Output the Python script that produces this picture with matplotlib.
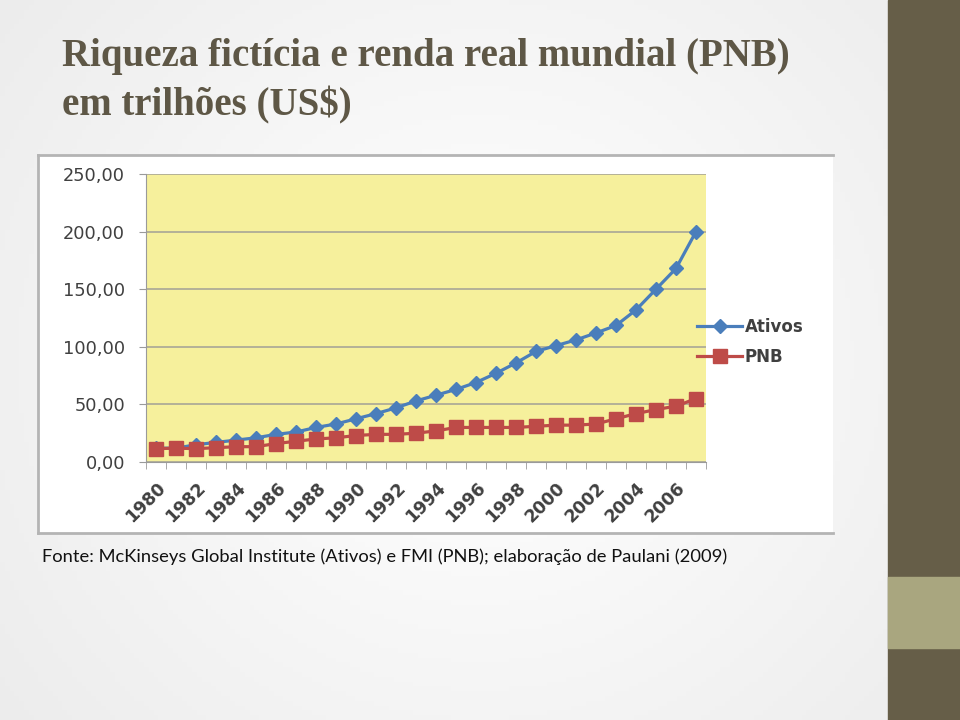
import numpy as np
import matplotlib
matplotlib.use("Agg")
import matplotlib.pyplot as plt
from matplotlib.patches import Rectangle
from matplotlib.lines import Line2D

years = list(range(1980, 2008))
ativos = [12, 12, 15, 17, 19, 21, 24, 26, 30, 33, 37.5, 42, 47, 53, 58, 63,
          69, 77, 86, 96, 101, 106, 112, 118.5, 132, 150, 168, 200]
pnb = [11.6, 12, 11.6, 12.4, 13.3, 13.3, 16, 18, 20, 21, 23, 24, 24, 25, 27, 30,
       30, 30, 30, 31, 32, 32, 33, 37.5, 42, 45.5, 48.5, 55]
y_ticks = [0, 50, 100, 150, 200, 250]
y_labels = ["0,00", "50,00", "100,00", "150,00", "200,00", "250,00"]

title_1 = "Riqueza fictícia e renda real mundial (PNB)"
title_2 = "em trilhões (US$)"
fonte = "Fonte: McKinseys Global Institute (Ativos) e FMI (PNB); elaboração de Paulani (2009)"

W, H = 960, 720
fig = plt.figure(figsize=(9.6, 7.2), dpi=100)

# slide background: soft grey gradient, white in the middle
bg = fig.add_axes([0, 0, 1, 1], zorder=-10)
bg.axis("off")
gx = np.linspace(-1, 1, 200)
gy = np.linspace(-1, 1, 150)
xx, yy = np.meshgrid(gx, gy)
shade = 0.985 - 0.07 * np.clip(np.sqrt((xx * 0.9) ** 2 + (yy * 0.7) ** 2) - 0.3, 0, None)
bg.imshow(np.dstack([shade, shade, shade]), extent=[0, 1, 0, 1], aspect="auto")
bg.set_xlim(0, 1)
bg.set_ylim(0, 1)

# right decorative bar
bg.add_patch(Rectangle((888 / W, 0), 72 / W, 1, color="#665e48", zorder=2))
bg.add_patch(Rectangle((888 / W, 1 - 648 / H), 72 / W, 71 / H, color="#a9a67f", zorder=3))

# chart picture frame (white, grey border on left, top, bottom)
x0, x1 = 38 / W, 833 / W
yb, yt = 1 - 533 / H, 1 - 155 / H
bg.add_patch(Rectangle((x0, yb), x1 - x0, yt - yb, facecolor="white", edgecolor="none", zorder=4))
for xs, ys in [([x0, x1], [yt, yt]), ([x0, x1], [yb, yb]), ([x0, x0], [yb, yt])]:
    bg.add_line(Line2D(xs, ys, color="#b4b4b4", lw=2, zorder=5))

for txt, base in [(title_1, 66), (title_2, 115)]:
    fig.text(62 / W, 1 - base / H, txt, fontsize=28, fontweight="bold",
             family="Liberation Serif", color="#5e5746", va="baseline", ha="left")
fig.text(42 / W, 1 - 557 / H, fonte, fontsize=13.2, family="Lato",
         color="#111111", va="center", ha="left")

ax = fig.add_axes([146 / W, 1 - 462 / H, 560 / W, 288 / H])
ax.set_facecolor("#f6f09c")
ax.plot(years, ativos, color="#4a7ebb", lw=2.3, marker="D", markersize=7.5,
        label="Ativos", zorder=3)
ax.plot(years, pnb, color="#be4b48", lw=2.3, marker="s", markersize=9.5,
        label="PNB", zorder=4)

ax.set_xlim(1979.5, 2007.5)
ax.set_ylim(0, 250)
ax.set_yticks(y_ticks)
ax.set_yticklabels(y_labels)
ax.set_xticks(years)
ax.set_xticklabels([str(y) if y % 2 == 0 else "" for y in years],
                   rotation=45, ha="right", va="top", rotation_mode="anchor",
                   fontweight="bold")
ax.set_xticks(np.arange(1979.5, 2008, 1), minor=True)
ax.tick_params(axis="x", which="major", length=0, pad=12, labelsize=12.5, colors="#404040")
ax.tick_params(axis="x", which="minor", length=5, color="#9a9a9a")
ax.tick_params(axis="y", length=5, color="#9a9a9a", pad=10, labelsize=12.8, labelcolor="#404040")
ax.grid(axis="y", color="#a8a697", lw=1.2)
ax.set_axisbelow(True)
for side in ["top", "right"]:
    ax.spines[side].set_visible(False)
for side in ["left", "bottom"]:
    ax.spines[side].set_color("#9a9a9a")

leg = ax.legend(loc="center left", bbox_to_anchor=(682 / W, 1 - 342 / H),
                bbox_transform=fig.transFigure, frameon=False, handlelength=2.7,
                handletextpad=0.15, labelspacing=0.75,
                prop={"weight": "bold", "size": 12})
for t in leg.get_texts():
    t.set_color("#404040")

fig.savefig("out.png", dpi=100)
